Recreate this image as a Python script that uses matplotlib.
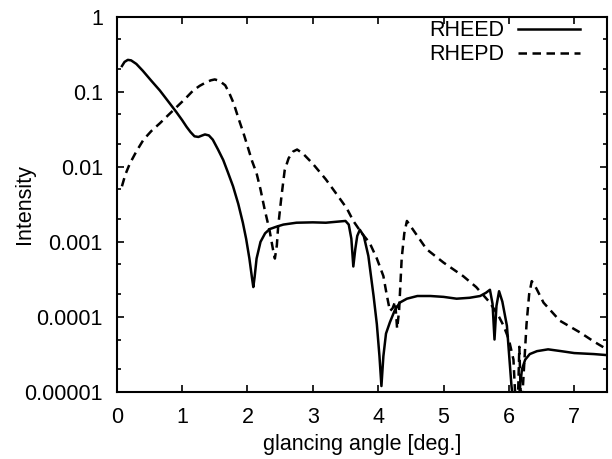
import matplotlib
matplotlib.use("Agg")
import matplotlib.pyplot as plt
from matplotlib.ticker import LogLocator, FixedLocator, FixedFormatter, NullFormatter

plt.rcParams['font.family'] = ['Liberation Sans', 'DejaVu Sans']

rheed_x = [0.08, 0.12, 0.17, 0.22, 0.3, 0.4, 0.53, 0.66, 0.78, 0.91, 1.0, 1.07, 1.13, 1.19,
           1.25, 1.3, 1.35, 1.41, 1.47, 1.55, 1.63, 1.7, 1.78, 1.86, 1.93, 1.98, 2.03, 2.07,
           2.09, 2.11, 2.14, 2.2, 2.27, 2.34, 2.45, 2.55, 2.75, 3.0, 3.2, 3.41, 3.5, 3.55,
           3.59, 3.62, 3.65, 3.68, 3.72, 3.78, 3.85, 3.93, 3.98, 4.02, 4.05, 4.08, 4.12, 4.18,
           4.25, 4.33, 4.44, 4.6, 4.8, 5.0, 5.2, 5.4, 5.56, 5.65, 5.71, 5.75, 5.78, 5.81, 5.85,
           5.9, 5.97, 6.04, 6.1, 6.15, 6.2, 6.25, 6.32, 6.43, 6.6, 6.8, 7.0, 7.3, 7.5]
rheed_y = [0.22, 0.25, 0.266, 0.262, 0.235, 0.19, 0.14, 0.104, 0.076, 0.054, 0.042, 0.034,
           0.029, 0.0255, 0.025, 0.026, 0.027, 0.0262, 0.023, 0.017, 0.0123, 0.0085, 0.0055,
           0.0032, 0.0018, 0.0011, 0.0006, 0.00033, 0.00025, 0.00034, 0.0006, 0.001, 0.0013,
           0.00148, 0.0016, 0.0017, 0.0018, 0.00182, 0.0018, 0.00187, 0.0019, 0.0017, 0.0011,
           0.00047, 0.0008, 0.0012, 0.00145, 0.0012, 0.00065, 0.00019, 0.00008, 0.00003,
           0.000012, 0.00003, 0.00006, 0.000085, 0.00012, 0.000155, 0.000175, 0.00019,
           0.00019, 0.000185, 0.000175, 0.00018, 0.00019, 0.00021, 0.00023, 0.00015, 0.00005,
           0.00014, 0.00022, 0.00016, 0.000076, 0.000012, 0.000004, 0.000008, 0.00002,
           0.000027, 0.000032, 0.000035, 0.000037, 0.000035, 0.000033, 0.000032, 0.000031]

rhepd_x = [0.08, 0.13, 0.2, 0.3, 0.41, 0.53, 0.66, 0.79, 0.92, 1.05, 1.17, 1.27, 1.37, 1.44,
           1.5, 1.57, 1.66, 1.72, 1.79, 1.86, 1.94, 2.0, 2.07, 2.14, 2.2, 2.26, 2.34, 2.39,
           2.42, 2.45, 2.47, 2.52, 2.57, 2.63, 2.7, 2.76, 2.85, 3.0, 3.2, 3.35, 3.52, 3.62,
           3.75, 3.87, 3.98, 4.08, 4.13, 4.18, 4.22, 4.26, 4.29, 4.32, 4.36, 4.4, 4.44, 4.5,
           4.6, 4.74, 5.0, 5.3, 5.5, 5.71, 5.85, 5.92, 6.0, 6.07, 6.1, 6.13, 6.16, 6.19, 6.23,
           6.27, 6.31, 6.35, 6.42, 6.53, 6.78, 7.09, 7.3, 7.5]
rhepd_y = [0.0055, 0.0078, 0.011, 0.016, 0.023, 0.03, 0.038, 0.049, 0.063, 0.081, 0.104,
           0.12, 0.134, 0.142, 0.146, 0.14, 0.122, 0.097, 0.07, 0.045, 0.028, 0.019, 0.012,
           0.0082, 0.005, 0.0028, 0.0014, 0.0008, 0.0006, 0.0009, 0.0016, 0.004, 0.009, 0.013,
           0.016, 0.017, 0.015, 0.011, 0.0068, 0.0045, 0.0028, 0.0019, 0.0013, 0.00097, 0.0006,
           0.00035, 0.0002, 0.00012, 0.00013, 0.00016, 0.00007, 0.00012, 0.0006, 0.0013,
           0.0019, 0.0016, 0.0012, 0.0008, 0.00053, 0.00035, 0.00025, 0.000155, 0.0001,
           0.000076, 0.00005, 0.000027, 0.000008, 0.000004, 0.00004, 0.000005, 0.00002,
           0.00008, 0.0002, 0.0003, 0.00024, 0.000155, 0.000089, 0.000062, 0.000047, 0.000037]

y_ticks = [1e-5, 1e-4, 1e-3, 1e-2, 1e-1, 1]
y_tick_labels = ["0.00001", "0.0001", "0.001", "0.01", "0.1", "1"]
x_ticks = [0, 1, 2, 3, 4, 5, 6, 7]

FS = 15.5

fig = plt.figure(figsize=(6.12, 4.59), dpi=100)
ax = fig.add_axes([0.1907, 0.146, 0.801, 0.8176])

ax.plot(rheed_x, rheed_y, color='black', lw=1.8, label='RHEED')
ax.plot(rhepd_x, rhepd_y, color='black', lw=1.8, linestyle=(0, (3.4, 2.2)), label='RHEPD')

ax.set_yscale('log')
ax.set_xlim(0, 7.5)
ax.set_ylim(1e-5, 1)
ax.yaxis.set_major_locator(FixedLocator(y_ticks))
ax.yaxis.set_major_formatter(FixedFormatter(y_tick_labels))
ax.yaxis.set_minor_locator(LogLocator(base=10, subs=(2.0, 5.0)))
ax.yaxis.set_minor_formatter(NullFormatter())
ax.set_xticks(x_ticks)

ax.tick_params(which='both', direction='in', top=True, right=True, labelsize=FS, width=1.2)
ax.tick_params(which='major', length=5)
ax.tick_params(which='minor', length=3)
ax.tick_params(axis='x', which='major', pad=11)
ax.tick_params(axis='y', which='major', pad=10)
for s in ax.spines.values():
    s.set_linewidth(1.5)

ax.set_xlabel('glancing angle [deg.]', fontsize=FS, labelpad=4)
ax.set_ylabel('Intensity', fontsize=FS)
ax.yaxis.set_label_coords(-0.167, 0.5)

ax.legend(loc='upper right', bbox_to_anchor=(0.945, 0.99), frameon=False, markerfirst=False,
          fontsize=FS, handlelength=2.9, handletextpad=0.6, labelspacing=0.12,
          borderpad=0, borderaxespad=0)

fig.savefig('out.png', dpi=100)
